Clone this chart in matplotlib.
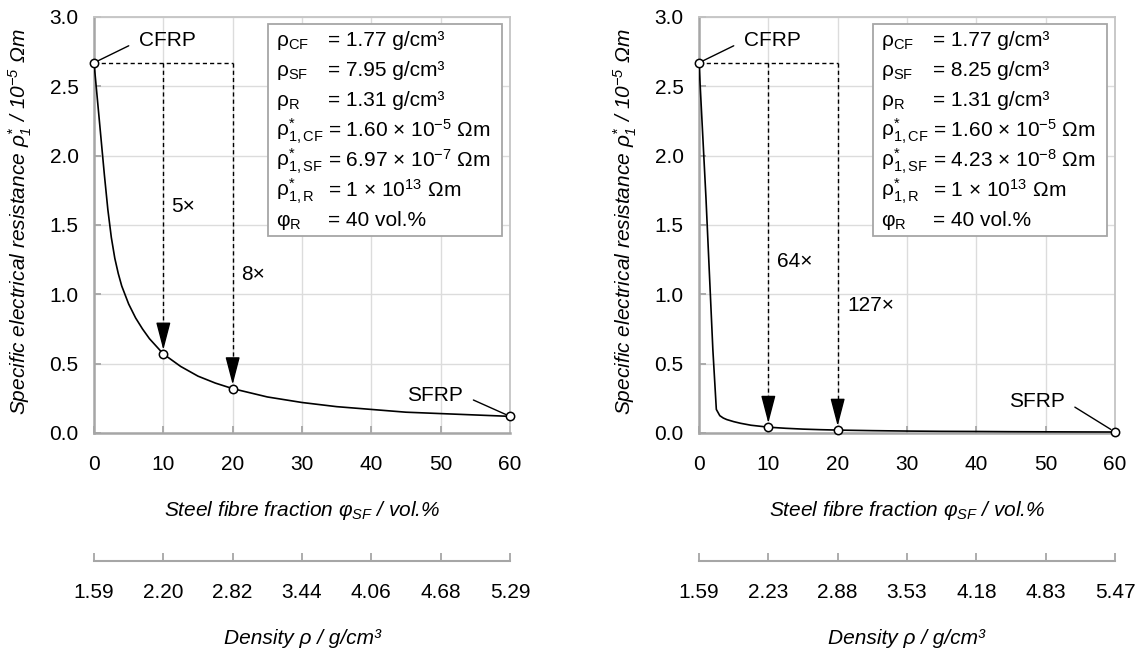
import matplotlib
matplotlib.use("Agg")
import matplotlib.pyplot as plt
from matplotlib.patches import Rectangle

plt.rcParams['font.family'] = ['Liberation Sans', 'DejaVu Sans']
plt.rcParams['mathtext.fontset'] = 'custom'
plt.rcParams['mathtext.rm'] = 'Liberation Sans'
plt.rcParams['mathtext.it'] = 'Liberation Sans:italic'
plt.rcParams['font.size'] = 15

# data
x_ticks = [0, 10, 20, 30, 40, 50, 60]
marked_phi = [0, 10, 20, 60]

phi_left = [0, 0.5, 1, 1.5, 2, 2.5, 3, 3.5, 4, 5, 6, 7, 8, 10, 12.5, 15, 17.5, 20, 25, 30,
            35, 40, 45, 50, 55, 60]
rho_left = [2.67, 2.40, 2.13, 1.86, 1.61, 1.41, 1.26, 1.15, 1.06, 0.93, 0.83, 0.75, 0.68, 0.57,
            0.48, 0.41, 0.36, 0.32, 0.26, 0.22, 0.19, 0.17, 0.15, 0.14, 0.13, 0.12]
ratios_left = ["5×", "8×"]
density_left = ["1.59", "2.20", "2.82", "3.44", "4.06", "4.68", "5.29"]
params_left = ["= 1.77 g/cm³", "= 7.95 g/cm³", "= 1.31 g/cm³",
               r"= 1.60 × 10$^{\mathregular{-5}}$ Ωm", r"= 6.97 × 10$^{\mathregular{-7}}$ Ωm",
               r"= 1 × 10$^{\mathregular{13}}$ Ωm", "= 40 vol.%"]

phi_right = [0, 1, 2, 2.5, 3, 3.5, 4, 5, 6, 7.5, 10, 12.5, 15, 17.5, 20, 25, 30, 35, 40, 45,
             50, 55, 60]
rho_right = [2.67, 1.70, 0.60, 0.17, 0.125, 0.108, 0.097, 0.082, 0.070, 0.056, 0.042, 0.034,
             0.028, 0.024, 0.021, 0.017, 0.014, 0.012, 0.011, 0.0094, 0.0085, 0.0077, 0.0071]
ratios_right = ["64×", "127×"]
density_right = ["1.59", "2.23", "2.88", "3.53", "4.18", "4.83", "5.47"]
params_right = ["= 1.77 g/cm³", "= 8.25 g/cm³", "= 1.31 g/cm³",
                r"= 1.60 × 10$^{\mathregular{-5}}$ Ωm", r"= 4.23 × 10$^{\mathregular{-8}}$ Ωm",
                r"= 1 × 10$^{\mathregular{13}}$ Ωm", "= 40 vol.%"]

symbols = [r"$\mathregular{ρ_{CF}}$", r"$\mathregular{ρ_{SF}}$", r"$\mathregular{ρ_{R}}$",
           r"$\mathregular{ρ^{*}_{1,CF}}$", r"$\mathregular{ρ^{*}_{1,SF}}$",
           r"$\mathregular{ρ^{*}_{1,R}}$", r"$\mathregular{φ_{R}}$"]

W, H = 1139, 651
AX_W = 416
AX_TOP, AX_BOT = 17, 433
GRAY = '#a6a6a6'
LIGHT = '#c4c4c4'
GRID = '#dcdcdc'

fig = plt.figure(figsize=(W / 100, H / 100), dpi=100)


def draw_panel(x0, phi, rho, ratios, ratio_pos, params, density, sfrp_off):
    ax = fig.add_axes([x0 / W, 1 - AX_BOT / H, AX_W / W, (AX_BOT - AX_TOP) / H])
    ax.set_xlim(0, 60)
    ax.set_ylim(0, 3.0)
    ax.set_xticks(x_ticks)
    ax.set_yticks([0, 0.5, 1.0, 1.5, 2.0, 2.5, 3.0])
    ax.set_yticklabels(["%.1f" % v for v in ax.get_yticks()])
    ax.grid(color=GRID, lw=1, zorder=0)
    ax.set_axisbelow(True)
    for side in ['top', 'right']:
        ax.spines[side].set_color(LIGHT)
        ax.spines[side].set_linewidth(1.3)
    for side in ['left', 'bottom']:
        ax.spines[side].set_color(GRAY)
        ax.spines[side].set_linewidth(1.8)
    ax.tick_params(axis='x', direction='in', length=5, width=1.3, color=GRAY, pad=16)
    ax.tick_params(axis='y', direction='in', length=5, width=1.3, color=GRAY, pad=11)

    idx = [phi.index(v) for v in marked_phi]

    # dashed guide lines and arrows
    top = rho[0]
    ax.plot([0, marked_phi[2]], [top, top], color='black', lw=1, dashes=(3, 2.2), zorder=2)
    for k, p in enumerate(marked_phi[1:3]):
        y = rho[idx[k + 1]]
        base = y + 20 / 138.6
        ax.plot([p, p], [top, base], color='black', lw=1, dashes=(3, 2.2), zorder=2)
        ax.annotate("", xy=(p, y + 4 / 138.6), xytext=(p, base),
                    arrowprops=dict(arrowstyle='-|>,head_length=1.15,head_width=0.3',
                                    color='black', lw=1, shrinkA=0, shrinkB=0), zorder=3)
        ax.text(ratio_pos[k][0], ratio_pos[k][1], ratios[k], ha='left', va='center', zorder=4)

    ax.plot(phi, rho, color='black', lw=1.2, zorder=4)
    ax.plot([phi[i] for i in idx], [rho[i] for i in idx], 'o', ms=6, mfc='white',
            mec='black', mew=1.1, zorder=5, clip_on=False)

    ax.annotate("CFRP", xy=(0, rho[0]), xytext=(45, 22), textcoords='offset pixels',
                ha='left', va='center',
                arrowprops=dict(arrowstyle='-', color='black', lw=1, relpos=(0, 0.5),
                                shrinkA=6, shrinkB=3.5))
    ax.annotate("SFRP", xy=(60, rho[-1]), xytext=sfrp_off, textcoords='offset pixels',
                ha='right', va='center',
                arrowprops=dict(arrowstyle='-', color='black', lw=1, relpos=(1, 0.5),
                                shrinkA=6, shrinkB=3.5))

    # parameter box
    ax.add_patch(Rectangle((0.419, 0.4736), 0.562, 0.509, transform=ax.transAxes,
                           facecolor='white', edgecolor=GRAY, lw=1.3, zorder=6))
    for i in range(len(symbols)):
        yb = (AX_BOT - (46.5 + 30 * i)) / (AX_BOT - AX_TOP)
        ax.text(0.437, yb, symbols[i], transform=ax.transAxes, va='baseline', zorder=7)
        ax.text(0.563, yb, params[i], transform=ax.transAxes, va='baseline', zorder=7)

    cx = (x0 + AX_W / 2) / W
    fig.text(cx, 1 - 510 / H, r"Steel fibre fraction $φ_{\mathregular{SF}}$ / vol.%",
             ha='center', va='center', fontstyle='italic')
    fig.text((x0 - 74) / W, 1 - 222 / H,
             r"Specific electrical resistance $ρ_{\mathregular{1}}^{\mathregular{*}}$ / 10$^{\mathregular{-5}}$ Ωm",
             ha='center', va='center', rotation=90, fontstyle='italic')

    # density axis
    dax = fig.add_axes([x0 / W, 1 - 560.7 / H, AX_W / W, 0.001])
    dax.set_xlim(0, 60)
    dax.patch.set_visible(False)
    for side in ['top', 'left', 'right']:
        dax.spines[side].set_visible(False)
    dax.spines['bottom'].set_color(GRAY)
    dax.spines['bottom'].set_linewidth(1.5)
    dax.set_yticks([])
    dax.set_xticks(x_ticks)
    dax.set_xticklabels(density)
    dax.tick_params(axis='x', direction='in', length=6, width=1.3, color=GRAY, pad=16)
    fig.text(cx, 1 - 638 / H, "Density ρ / g/cm³", ha='center', va='center', fontstyle='italic')
    return ax


draw_panel(94, phi_left, rho_left, ratios_left, [(11.2, 1.63), (21.2, 1.14)],
           params_left, density_left, (-47, 21))
draw_panel(699, phi_right, rho_right, ratios_right, [(11.2, 1.24), (21.4, 0.92)],
           params_right, density_right, (-50, 31))

fig.savefig("out.png", dpi=100)
